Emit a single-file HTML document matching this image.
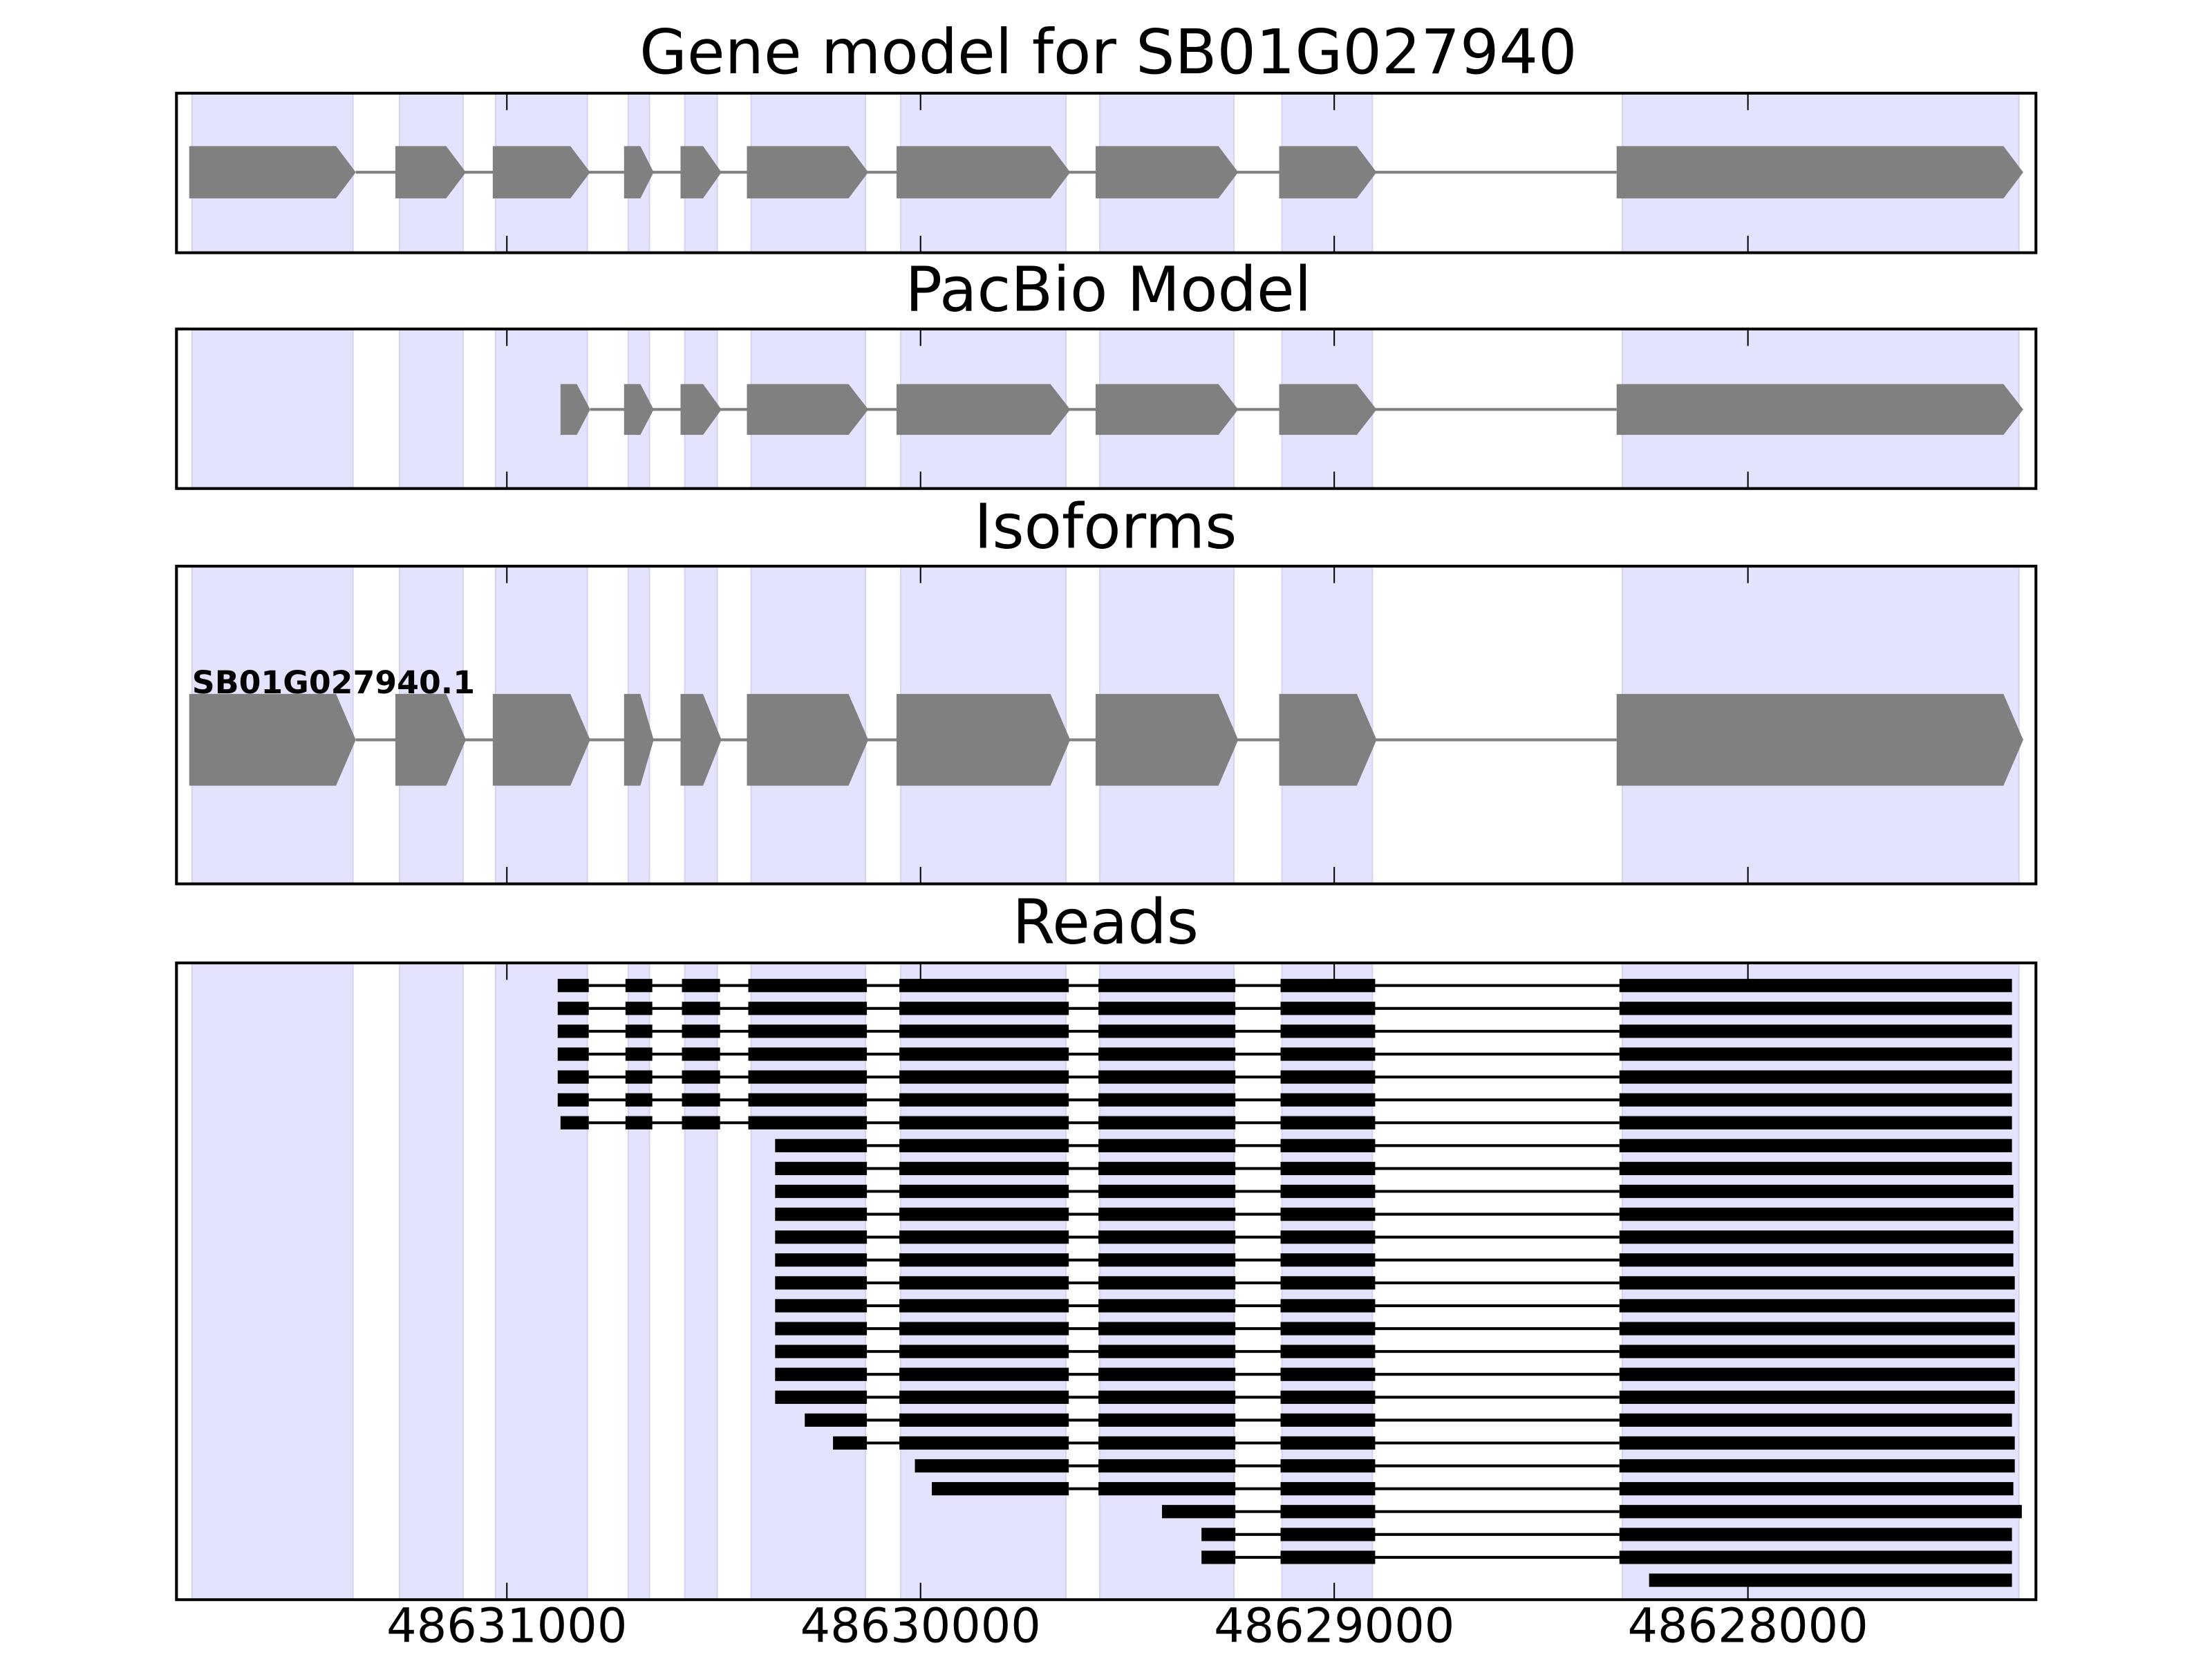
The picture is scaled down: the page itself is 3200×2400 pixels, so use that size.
<!DOCTYPE html>
<html><head><meta charset="utf-8"><style>html,body{margin:0;padding:0;background:#fff}svg{display:block}</style></head>
<body>
<svg id="s" xmlns="http://www.w3.org/2000/svg" width="3200" height="2400" viewBox="0 0 1566.7 1175" preserveAspectRatio="none" font-family="DejaVu Sans, Liberation Sans, sans-serif">
<rect width="1567" height="1175" fill="#fff"/>
<g id="g"></g>
<text x="785" y="52" font-size="43.5" text-anchor="middle">Gene model for SB01G027940</text>
<text x="785" y="220" font-size="43.5" text-anchor="middle">PacBio Model</text>
<text x="783" y="388" font-size="43.5" text-anchor="middle">Isoforms</text>
<text x="783" y="668" font-size="43.5" text-anchor="middle">Reads</text>
<text x="136" y="491" font-size="22.4" font-weight="bold">SB01G027940.1</text>
<text x="359" y="1163" font-size="33.5" text-anchor="middle">48631000</text>
<text x="652" y="1163" font-size="33.5" text-anchor="middle">48630000</text>
<text x="945" y="1163" font-size="33.5" text-anchor="middle">48629000</text>
<text x="1238" y="1163" font-size="33.5" text-anchor="middle">48628000</text>
</svg>
<script>
var g=document.getElementById('g'),h='';
var panels=[[66,179],[233,346],[401,626],[682,1133]];
var bands=[[136,250],[283,328],[351,416],[445,460],[485,508],[532,613],[638,755],[779,874],[908,972],[1149,1430]];
var ticks=[359,652,945,1238];
panels.forEach(function(p){
 bands.forEach(function(b){h+='<rect x="'+b[0]+'" y="'+p[0]+'" width="'+(b[1]-b[0])+'" height="'+(p[1]-p[0])+'" fill="#e3e3fd" stroke="#d4d4ef" stroke-width="1"/>';});
});
var ex=[[134,252],[280,330],[349,418],[442,463],[482,511],[529,615],[635,758],[776,877],[906,975],[1145,1433]];
function gene(list,yc,hh){
 h+='<line x1="'+list[0][1]+'" x2="'+list[list.length-1][0]+'" y1="'+yc+'" y2="'+yc+'" stroke="#808080" stroke-width="2"/>';
 list.forEach(function(e){var w=e[1]-e[0],t=Math.min(14,w*0.45),y0=yc-hh/2,y1=yc+hh/2;
  h+='<polygon points="'+e[0]+','+y0+' '+(e[1]-t)+','+y0+' '+e[1]+','+yc+' '+(e[1]-t)+','+y1+' '+e[0]+','+y1+'" fill="#808080"/>';});
}
gene(ex,122,37);
gene([[397,418]].concat(ex.slice(3)),290,36);
gene(ex,524,65);
var R=[];
var full=[[395,417],[443,462],[483,510],[530,614],[637,757],[778,875],[907,974],[1147,1425]];
for(var i=0;i<7;i++){var f=JSON.parse(JSON.stringify(full));if(i==6)f[0][0]=397;R.push(f);}
var tail=[[637,757],[778,875],[907,974]];
var ends=[1425,1425,1426,1426,1426,1426,1427,1427,1427,1427,1427,1427];
for(i=0;i<12;i++)R.push([[549,614]].concat(tail,[[1147,ends[i]]]));
R.push([[570,614]].concat(tail,[[1147,1425]]));
R.push([[590,614]].concat(tail,[[1147,1427]]));
R.push([[648,757],[778,875],[907,974],[1147,1427]]);
R.push([[660,757],[778,875],[907,974],[1147,1426]]);
R.push([[823,875],[907,974],[1147,1432]]);
R.push([[851,875],[907,974],[1147,1425]]);
R.push([[851,875],[907,974],[1147,1425]]);
R.push([[1168,1425]]);
R.forEach(function(r,k){var yc=698+k*16.2;
 if(r.length>1)h+='<line x1="'+r[0][1]+'" x2="'+r[r.length-1][0]+'" y1="'+yc+'" y2="'+yc+'" stroke="#000" stroke-width="2"/>';
 r.forEach(function(b){h+='<rect x="'+b[0]+'" y="'+(yc-4.7)+'" width="'+(b[1]-b[0])+'" height="9.4" fill="#000"/>';});
});
panels.forEach(function(p,k){
 ticks.forEach(function(t){h+='<line x1="'+t+'" x2="'+t+'" y1="'+p[0]+'" y2="'+(p[0]+12)+'" stroke="#000" stroke-width="1"/><line x1="'+t+'" x2="'+t+'" y1="'+(p[1]-12)+'" y2="'+p[1]+'" stroke="#000" stroke-width="1"/>';});
 h+='<rect x="125" y="'+p[0]+'" width="1317" height="'+(p[1]-p[0])+'" fill="none" stroke="#000" stroke-width="2"/>';
});
g.innerHTML=h;
</script>
</body></html>
